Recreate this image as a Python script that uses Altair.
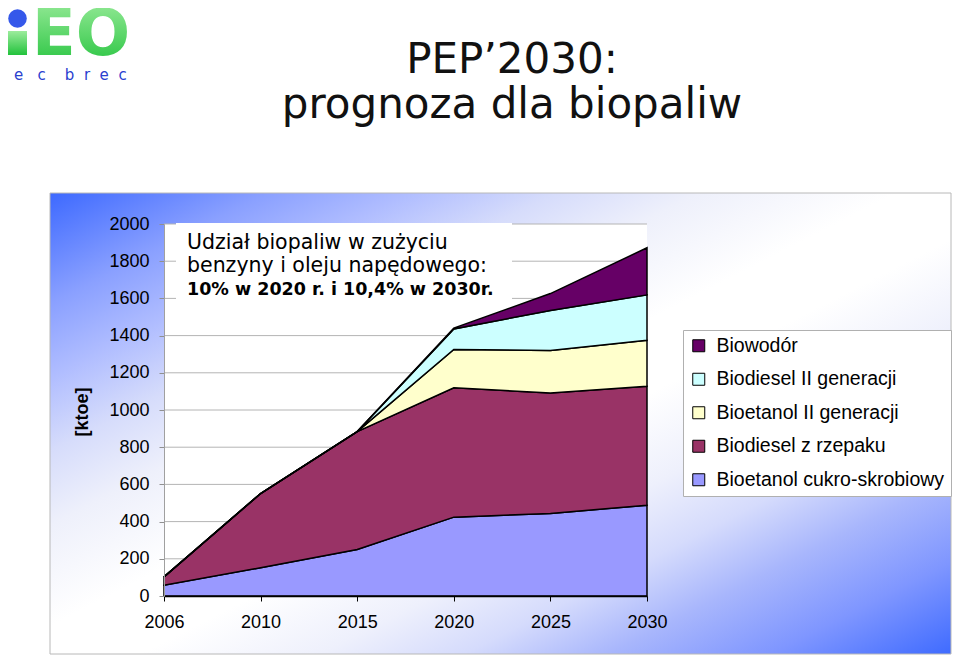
import altair as alt
import pandas as pd

# ---------------- data ----------------
years = ["2006", "2010", "2015", "2020", "2025", "2030"]

# stacking order: bottom -> top
stack_series = [
    "Bioetanol cukro-skrobiowy",
    "Biodiesel z rzepaku",
    "Bioetanol II generacji",
    "Biodiesel II generacji",
    "Biowodór",
]
bioetanol_cukro = [58, 152, 250, 424, 444, 488]
biodiesel_rzepak = [45, 399, 634, 695, 648, 640]
bioetanol_II = [0, 0, 0, 206, 228, 247]
biodiesel_II = [0, 0, 0, 111, 215, 244]
biowodor = [0, 0, 0, 4, 91, 253]

legend_order = [
    "Biowodór",
    "Biodiesel II generacji",
    "Bioetanol II generacji",
    "Biodiesel z rzepaku",
    "Bioetanol cukro-skrobiowy",
]
legend_colors = ["#660066", "#CCFFFF", "#FFFFCC", "#993366", "#9999FF"]

y_ticks = [0, 200, 400, 600, 800, 1000, 1200, 1400, 1600, 1800, 2000]
grid_values = [200, 400, 600, 800, 1000, 1200, 1400, 1600, 1800, 2000]

title_lines = ["PEP’2030:", "prognoza dla biopaliw"]
note_lines = ["Udział biopaliw w zużyciu", "benzyny i oleju napędowego:"]
note_bold = "10% w 2020 r. i 10,4% w 2030r."
y_title = "[ktoe]"

# ---------------- table ----------------
values_by_series = [bioetanol_cukro, biodiesel_rzepak, bioetanol_II, biodiesel_II, biowodor]
rows = []
for idx, (name, vals) in enumerate(zip(stack_series, values_by_series)):
    for yr, v in zip(years, vals):
        rows.append({"year": yr, "series": name, "value": v, "stack_idx": idx})
df = pd.DataFrame(rows)
one = pd.DataFrame({"k": [0]})

W, H = 483, 372
yscale = alt.Scale(domain=[0, 2000], nice=False)
y_axis = alt.Axis(
    title=None, values=y_ticks, format="d", labelFont="Liberation Sans", labelFontSize=18,
    labelColor="black", labelPadding=10, domainColor="#a0a0a0", tickColor="#909090",
    tickSize=5, grid=False, zindex=1,
)

# ---------------- background ----------------
bg_gradient = alt.LinearGradient(
    gradient="linear",
    x1=0, y1=0, x2=1, y2=1,
    stops=[
        alt.GradientStop(offset=0.0, color="#3d69ff"),
        alt.GradientStop(offset=0.12, color="#8aa0ff"),
        alt.GradientStop(offset=0.2, color="#b0bdff"),
        alt.GradientStop(offset=0.28, color="#d6dcfb"),
        alt.GradientStop(offset=0.36, color="#eef0fb"),
        alt.GradientStop(offset=0.47, color="#ffffff"),
        alt.GradientStop(offset=0.55, color="#ffffff"),
        alt.GradientStop(offset=0.65, color="#eef0fc"),
        alt.GradientStop(offset=0.73, color="#d5dbfc"),
        alt.GradientStop(offset=0.81, color="#a8b6fc"),
        alt.GradientStop(offset=0.9, color="#7f96ff"),
        alt.GradientStop(offset=1.0, color="#3f6bff"),
    ],
)
bg = alt.Chart(one).mark_rect(fill=bg_gradient, stroke="#b8b8b8", strokeWidth=1).encode(
    x=alt.value(-114), x2=alt.value(787), y=alt.value(-31), y2=alt.value(430)
)
plot_bg = alt.Chart(one).mark_rect(fill="white").encode(
    x=alt.value(0), x2=alt.value(W), y=alt.value(0), y2=alt.value(H)
)

grid = alt.Chart(pd.DataFrame({"value": grid_values})).mark_rule(color="#b4b4b4", strokeWidth=1).encode(
    y=alt.Y("value:Q", scale=yscale, axis=y_axis)
)

# ---------------- areas ----------------
areas = alt.Chart(df).mark_area(stroke="black", strokeWidth=1.5, opacity=1, interpolate="linear").encode(
    x=alt.X(
        "year:O",
        sort=years,
        scale=alt.Scale(type="point", padding=0),
        axis=alt.Axis(
            title=None, labelAngle=0, labelFont="Liberation Sans", labelFontSize=18,
            labelColor="black", labelPadding=12, domainColor="black", domainWidth=1.5,
            tickColor="black", tickSize=5, tickWidth=1, grid=False, zindex=1,
        ),
    ),
    y=alt.Y("value:Q", stack="zero", scale=yscale, axis=y_axis),
    color=alt.Color(
        "series:N",
        scale=alt.Scale(domain=legend_order, range=legend_colors),
        legend=alt.Legend(
            title=None, orient="none", legendX=519, legendY=106, symbolType="square",
            symbolSize=144, symbolStrokeColor="black", symbolStrokeWidth=1, symbolOpacity=1,
            labelFont="Liberation Sans", labelFontSize=19.5, labelColor="black", labelOffset=8,
            fillColor="white", strokeColor="#b0b0b0", padding=6, rowPadding=12.5, zindex=1,
            labelLimit=400,
        ),
    ),
    order=alt.Order("stack_idx:Q", sort="ascending"),
)

# ---------------- annotation ----------------
note_box = alt.Chart(one).mark_rect(fill="white").encode(
    x=alt.value(12), x2=alt.value(348), y=alt.value(-1), y2=alt.value(82)
)

def text_layer(txt, x, y, size, weight="normal", font="DejaVu Sans", align="left", color="black", angle=0):
    return alt.Chart(one).mark_text(
        align=align, baseline="alphabetic", font=font, fontSize=size, fontWeight=weight,
        color=color, angle=angle,
    ).encode(x=alt.value(x), y=alt.value(y), text=alt.value(txt))

note1 = text_layer(note_lines[0], 23, 25, 20.5)
note2 = text_layer(note_lines[1], 23, 48, 20.5)
note3 = text_layer(note_bold, 23, 71, 17.5, weight="bold")

title1 = text_layer(title_lines[0], 348, -151, 42, align="center", color="#111111")
title2 = text_layer(title_lines[1], 348, -106, 42, align="center", color="#111111")

ktoe = alt.Chart(one).mark_text(
    align="center", baseline="middle", font="Liberation Sans", fontSize=18, fontWeight="bold",
    angle=270, color="black",
).encode(x=alt.value(-81), y=alt.value(188), text=alt.value(y_title))

# ---------------- logo ----------------
green = alt.LinearGradient(
    gradient="linear", x1=0, y1=0, x2=0, y2=1,
    stops=[alt.GradientStop(offset=0, color="#9cec9c"), alt.GradientStop(offset=1, color="#22c23c")],
)
logo_i = alt.Chart(one).mark_rect(fill=green).encode(
    x=alt.value(-156), x2=alt.value(-137), y=alt.value(-193), y2=alt.value(-169)
)
logo_dot = alt.Chart(one).mark_circle(color="#3558ea", opacity=1, size=346).encode(
    x=alt.value(-146.5), y=alt.value(-205.5)
)
logo_eo = alt.Chart(one).mark_text(
    align="left", baseline="alphabetic", font="DejaVu Sans", fontSize=64, fontWeight="bold",
    fill=green,
).encode(x=alt.value(-132), y=alt.value(-169), text=alt.value("EO"))
sp = "\u00a0"
logo_sub = text_layer("e" + sp * 3 + "c" + sp * 4 + "b" + sp * 2 + "r" + sp * 2 + "e" + sp * 2 + "c",
                      -150, -144, 15, color="#2a3fcf")

chart = alt.layer(
    bg, plot_bg, grid, areas, note_box, note1, note2, note3,
    title1, title2, ktoe, logo_i, logo_dot, logo_eo, logo_sub,
).properties(
    width=W, height=H,
    autosize=alt.AutoSizeParams(type="none"),
    padding={"left": 156, "top": 216, "right": 305, "bottom": 59},
).configure_view(stroke=None).configure(background="white")

chart.save("out.html", embed_options={"renderer": "svg", "actions": False})
